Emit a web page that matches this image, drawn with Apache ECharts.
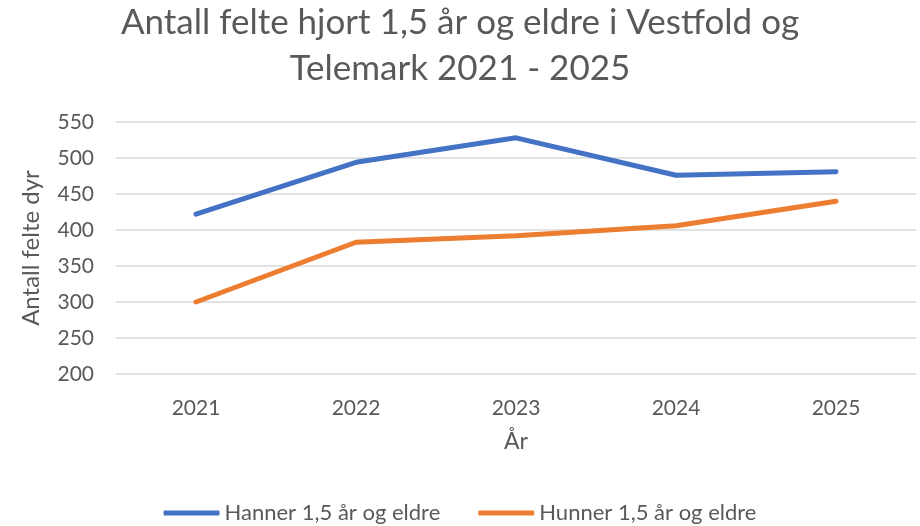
<!DOCTYPE html>
<html><head><meta charset="utf-8">
<script src="https://cdn.jsdelivr.net/npm/echarts@6/dist/echarts.min.js"></script>
<style>html,body{margin:0;padding:0;background:#fff}#c{width:920px;height:526px}</style>
</head><body><div id="c"></div>
<script>
const years = ['2021','2022','2023','2024','2025'];
const hanner = [422, 494, 528, 476, 481];
const hunner = [300, 383, 392, 406, 440];
const seriesNames = ['Hanner 1,5 år og eldre','Hunner 1,5 år og eldre'];
const titleText = 'Antall felte hjort 1,5 år og eldre i Vestfold og\nTelemark 2021 - 2025';
const FONT = 'Lato';
const chart = echarts.init(document.getElementById('c'));
chart.setOption({
  animation:false,
  title:{text:titleText,left:'center',top:-5,textStyle:{fontFamily:FONT,fontSize:35,fontWeight:'normal',color:'#595959',lineHeight:46}},
  legend:{top:497,left:'center',itemWidth:56,itemHeight:5,itemGap:38,icon:'roundRect',
    textStyle:{fontFamily:FONT,fontSize:22,color:'#595959'}},
  grid:{left:116,right:4,top:122,bottom:152,containLabel:false},
  xAxis:{type:'category',data:years,name:'År',nameLocation:'middle',nameGap:56,
    nameTextStyle:{fontFamily:FONT,fontSize:23,color:'#595959'},
    axisLine:{show:false},axisTick:{show:false},
    axisLabel:{fontFamily:FONT,fontSize:21,color:'#595959',margin:24}},
  yAxis:{type:'value',min:200,max:550,interval:50,name:'Antall felte dyr',nameLocation:'middle',nameGap:73,nameRotate:90,
    nameTextStyle:{fontFamily:FONT,fontSize:24,color:'#595959'},
    axisLine:{show:false},axisTick:{show:false},
    axisLabel:{fontFamily:FONT,fontSize:21,color:'#595959',margin:22},
    splitLine:{lineStyle:{color:'#d9d9d9',width:1.5}}},
  series:[
    {name:seriesNames[0],type:'line',data:hanner,symbol:'none',lineStyle:{width:5,color:'#4472c4',cap:'round',join:'round'},itemStyle:{color:'#4472c4'}},
    {name:seriesNames[1],type:'line',data:hunner,symbol:'none',lineStyle:{width:5,color:'#ed7d31',cap:'round',join:'round'},itemStyle:{color:'#ed7d31'}}
  ]
});
</script></body></html>
